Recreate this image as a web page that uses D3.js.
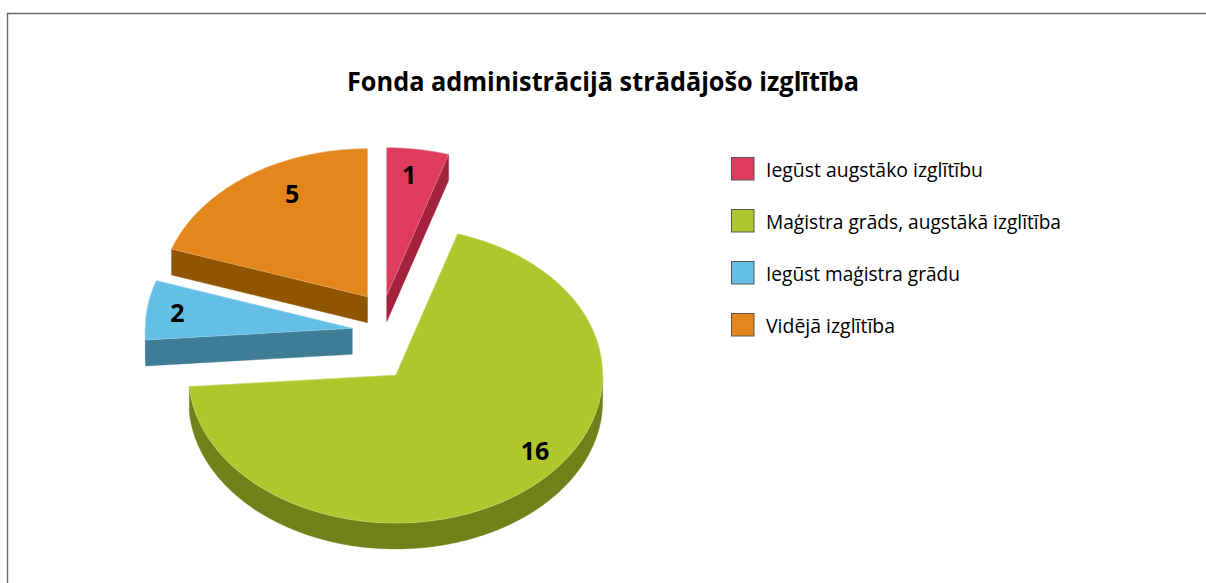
<!DOCTYPE html>
<html>
<head>
<meta charset="utf-8">
<script src="https://cdn.jsdelivr.net/npm/d3@7"></script>
<style>
  html, body { margin: 0; background: #fff; overflow: hidden; }
  text { font-family: "Open Sans", "Noto Sans", sans-serif; fill: #000; }
</style>
</head>
<body>
<div id="chart"></div>
<script>
const title = `Fonda administrācijā strādājošo izglītība`;
const categories = [`Iegūst augstāko izglītību`, `Maģistra grāds, augstākā izglītība`, `Iegūst maģistra grādu`, `Vidējā izglītība`];
const values = [1, 16, 2, 5];

const topColors = [`#DE3B5D`, `#AFC72C`, `#64BFE4`, `#E3871C`];
const wallColors = [`#A3233F`, `#718019`, `#3F7D97`, `#905500`];

// where each exploded slice has its tip, and its label in [angle, fraction of radius]
const tips = [[386.7, 295.7], [395.7, 375], [352.3, 328.3], [367.5, 296.7]];
const labelAt = [[7.6, 0.823], [127.4, 0.847], [277, 0.851], [332.3, 0.784]];

const width = 1206;
const height = 583;
const rx = 207;
const ry = 148;
const depth = 26;

// the original is drawn in perspective, so slices on the page are not quite proportional
const projectAngle = d3.scaleLinear()
  .domain([0, 15, 255, 285, 360])
  .range([0, 17.4, 265.5, 288.8, 360]);

const rad = (deg) => (deg * Math.PI) / 180;

const svg = d3.select(`#chart`).append(`svg`)
  .attr(`width`, width)
  .attr(`height`, height)
  .style(`display`, `block`);

// frame, open on the right and at the bottom
svg.append(`path`)
  .attr(`d`, d3.line()([[7.5, height], [7.5, 13.5], [width, 13.5]]))
  .attr(`fill`, `none`)
  .attr(`stroke`, `#6a6a6a`)
  .attr(`stroke-width`, 1.4);

svg.append(`text`)
  .attr(`x`, 603)
  .attr(`y`, 91)
  .attr(`text-anchor`, `middle`)
  .attr(`font-weight`, 700)
  .attr(`font-size`, 27)
  .attr(`textLength`, 512)
  .attr(`lengthAdjust`, `spacingAndGlyphs`)
  .text(title);

const pie = d3.pie().sort(null);
const line = d3.line();

const slices = pie(values).map((d) => {
  const a0 = projectAngle((d.startAngle * 180) / Math.PI);
  const a1 = projectAngle((d.endAngle * 180) / Math.PI);
  return { index: d.index, value: d.value, a0, a1, tip: tips[d.index] };
});

const rimPoint = (s, deg, dy = 0) => [
  s.tip[0] + rx * Math.sin(rad(deg)),
  s.tip[1] - ry * Math.cos(rad(deg)) + dy,
];

const rim = (s, from, to, dy = 0) => {
  const n = Math.max(2, Math.ceil(Math.abs(to - from)));
  return d3.range(n + 1).map((i) => rimPoint(s, from + ((to - from) * i) / n, dy));
};

const wallPaths = (s) => {
  const paths = [];
  const [tx, ty] = s.tip;
  const edge = (deg) => {
    const p = rimPoint(s, deg);
    return line([[tx, ty], p, [p[0], p[1] + depth], [tx, ty + depth]]) + `Z`;
  };
  if (Math.sin(rad(s.a0)) < -0.001) paths.push(edge(s.a0));
  if (Math.sin(rad(s.a1)) > 0.001) paths.push(edge(s.a1));
  const from = Math.max(s.a0, 90);
  const to = Math.min(s.a1, 270);
  if (to > from) {
    paths.push(line([...rim(s, from, to), ...rim(s, to, from, depth)]) + `Z`);
  }
  return paths;
};

const slice = svg.selectAll(`g.slice`)
  .data(slices)
  .enter()
  .append(`g`)
  .attr(`class`, `slice`);

slice.selectAll(`path.wall`)
  .data((d) => wallPaths(d).map((p) => ({ p, i: d.index })))
  .enter()
  .append(`path`)
  .attr(`class`, `wall`)
  .attr(`d`, (d) => d.p)
  .attr(`fill`, (d) => wallColors[d.i])
  .attr(`stroke`, (d) => wallColors[d.i])
  .attr(`stroke-width`, 0.4);

slice.append(`path`)
  .attr(`d`, (d) => line([d.tip, ...rim(d, d.a0, d.a1)]) + `Z`)
  .attr(`fill`, (d) => topColors[d.index])
  .attr(`stroke`, (d) => d3.interpolateRgb(topColors[d.index], `#fff`)(0.35))
  .attr(`stroke-width`, 0.6);

slice.append(`text`)
  .attr(`x`, (d) => d.tip[0] + labelAt[d.index][1] * rx * Math.sin(rad(labelAt[d.index][0])))
  .attr(`y`, (d) => d.tip[1] - labelAt[d.index][1] * ry * Math.cos(rad(labelAt[d.index][0])))
  .attr(`dy`, `0.36em`)
  .attr(`text-anchor`, `middle`)
  .attr(`font-weight`, 700)
  .attr(`font-size`, 25)
  .text((d) => d.value);

const legendY = d3.scalePoint().domain(categories).range([169, 325]);

const legend = svg.selectAll(`g.legend`)
  .data(categories)
  .enter()
  .append(`g`)
  .attr(`class`, `legend`)
  .attr(`transform`, (d) => `translate(731,${legendY(d)})`);

legend.append(`rect`)
  .attr(`x`, 0.5)
  .attr(`y`, -11.5)
  .attr(`width`, 22.5)
  .attr(`height`, 22.5)
  .attr(`fill`, (d, i) => topColors[i])
  .attr(`stroke`, `#555`)
  .attr(`stroke-width`, 1);

const legendWidths = [217, 295, 194, 129];

legend.append(`text`)
  .attr(`x`, 35)
  .attr(`y`, 8)
  .attr(`font-size`, 20)
  .attr(`textLength`, (d, i) => legendWidths[i])
  .attr(`lengthAdjust`, `spacingAndGlyphs`)
  .text((d) => d);
</script>
</body>
</html>
